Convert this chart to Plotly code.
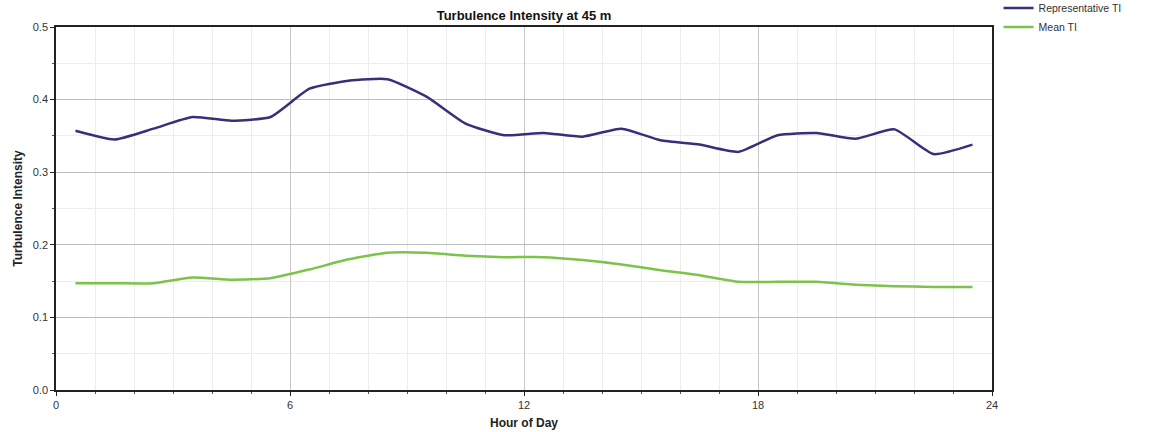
import plotly.graph_objects as go

hours = [0.5, 1.5, 2.5, 3.5, 4.5, 5.5, 6.5, 7.5, 8.5, 9.5, 10.5, 11.5,
         12.5, 13.5, 14.5, 15.5, 16.5, 17.5, 18.5, 19.5, 20.5, 21.5, 22.5, 23.5]
representative_ti = [0.357, 0.345, 0.360, 0.376, 0.371, 0.376, 0.415, 0.426, 0.428, 0.404, 0.367, 0.351,
                     0.354, 0.349, 0.360, 0.344, 0.338, 0.328, 0.351, 0.354, 0.346, 0.359, 0.325, 0.338]
mean_ti = [0.147, 0.147, 0.147, 0.155, 0.152, 0.154, 0.166, 0.180, 0.189, 0.189, 0.185, 0.183,
           0.183, 0.179, 0.173, 0.165, 0.158, 0.149, 0.149, 0.149, 0.145, 0.143, 0.142, 0.142]
x_ticks = [0, 6, 12, 18, 24]
y_ticks = [0.0, 0.1, 0.2, 0.3, 0.4, 0.5]

font = "Liberation Sans, Arial, sans-serif"

fig = go.Figure()
fig.add_trace(go.Scatter(x=hours, y=representative_ti, mode="lines", name="Representative TI",
                         line=dict(color="#35307a", width=2.5, shape="spline", smoothing=0.5)))
fig.add_trace(go.Scatter(x=hours, y=mean_ti, mode="lines", name="Mean TI",
                         line=dict(color="#7dc24b", width=2.5, shape="spline", smoothing=0.5)))

fig.update_layout(
    width=1165, height=432,
    margin=dict(l=56, r=173, t=27, b=42, autoexpand=False),
    paper_bgcolor="white", plot_bgcolor="white",
    font=dict(family=font, size=11, color="#333333"),
    title=dict(text="<b>Turbulence Intensity at 45 m</b>", x=0.5, xref="paper", xanchor="center",
               y=1, yref="container", yanchor="top", pad=dict(t=11),
               font=dict(family=font, size=13, color="#111111")),
    legend=dict(x=1.007, y=1.092, xanchor="left", yanchor="top", font=dict(size=10.5, color="#333333"),
                bgcolor="rgba(0,0,0,0)", tracegroupgap=0, itemwidth=30),
    showlegend=True,
)
fig.update_xaxes(
    range=[0, 24], tickvals=x_ticks, ticktext=[str(v) for v in x_ticks],
    showline=True, linecolor="#222222", linewidth=1.5, mirror=True,
    ticks="outside", ticklen=4, tickcolor="#222222",
    showgrid=True, gridcolor="#c8c8c8", gridwidth=1, zeroline=False,
    minor=dict(dtick=1, showgrid=True, gridcolor="#ededed", ticks="outside", ticklen=2, tickcolor="#555555"),
    title=dict(text="<b>Hour of Day</b>", font=dict(size=12, color="#222222"), standoff=9),
)
fig.update_yaxes(
    range=[0, 0.5], tickvals=y_ticks, ticktext=[f"{v:.1f}" for v in y_ticks],
    showline=True, linecolor="#222222", linewidth=1.5, mirror=True,
    ticks="outside", ticklen=4, tickcolor="#222222",
    showgrid=True, gridcolor="#bdbdbd", gridwidth=1, zeroline=False,
    minor=dict(dtick=0.05, showgrid=True, gridcolor="#ededed", ticks="outside", ticklen=2, tickcolor="#555555"),
    title=dict(text="<b>Turbulence Intensity</b>", font=dict(size=12, color="#222222"), standoff=8),
)

fig.write_html("out.html")
